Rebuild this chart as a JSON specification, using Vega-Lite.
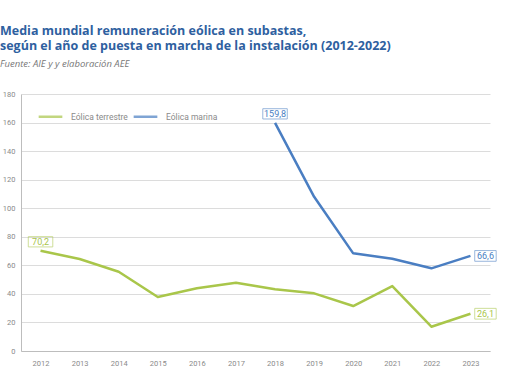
{
  "$schema": "https://vega.github.io/schema/vega-lite/v6.json",
  "autosize": "none",
  "width": 469,
  "height": 257,
  "padding": {"left": 21, "top": 94, "right": 20, "bottom": 31},
  "background": "white",
  "title": {
    "text": ["Media mundial remuneración eólica en subastas,", "según el año de puesta en marcha de la instalación (2012-2022)"],
    "subtitle": "Fuente: AIE y y elaboración AEE",
    "anchor": "start",
    "frame": "group",
    "dx": -21,
    "offset": 22,
    "font": "Open Sans",
    "fontSize": 12.5,
    "fontWeight": "bold",
    "color": "#2E609F",
    "lineHeight": 15,
    "subtitleFont": "Open Sans",
    "subtitleFontSize": 9.5,
    "subtitleFontStyle": "italic",
    "subtitleColor": "#777777",
    "subtitlePadding": 6
  },
  "config": {
    "view": {"stroke": null},
    "axis": {
      "labelFont": "Roboto",
      "labelFontSize": 7.5,
      "labelColor": "#8a8a8a",
      "domainColor": "#bdbdbd",
      "gridColor": "#dcdcdc",
      "ticks": false,
      "labelOverlap": false,
      "title": null
    }
  },
  "datasets": {
    "series": [
      {"year": "2012", "serie": "Eólica terrestre", "value": 70.2},
      {"year": "2013", "serie": "Eólica terrestre", "value": 64.4},
      {"year": "2014", "serie": "Eólica terrestre", "value": 55.5},
      {"year": "2015", "serie": "Eólica terrestre", "value": 37.8},
      {"year": "2016", "serie": "Eólica terrestre", "value": 43.9},
      {"year": "2017", "serie": "Eólica terrestre", "value": 47.8},
      {"year": "2018", "serie": "Eólica terrestre", "value": 43.2},
      {"year": "2019", "serie": "Eólica terrestre", "value": 40.4},
      {"year": "2020", "serie": "Eólica terrestre", "value": 31.5},
      {"year": "2021", "serie": "Eólica terrestre", "value": 45.5},
      {"year": "2022", "serie": "Eólica terrestre", "value": 17.0},
      {"year": "2023", "serie": "Eólica terrestre", "value": 26.1},
      {"year": "2018", "serie": "Eólica marina", "value": 159.8},
      {"year": "2019", "serie": "Eólica marina", "value": 108.0},
      {"year": "2020", "serie": "Eólica marina", "value": 68.4},
      {"year": "2021", "serie": "Eólica marina", "value": 64.6},
      {"year": "2022", "serie": "Eólica marina", "value": 57.9},
      {"year": "2023", "serie": "Eólica marina", "value": 66.6}
    ],
    "labels": [
      {"year": "2012", "serie": "Eólica terrestre", "value": 70.2, "label": "70,2", "pos": "top"},
      {"year": "2018", "serie": "Eólica marina", "value": 159.8, "label": "159,8", "pos": "top"},
      {"year": "2023", "serie": "Eólica marina", "value": 66.6, "label": "66,6", "pos": "right"},
      {"year": "2023", "serie": "Eólica terrestre", "value": 26.1, "label": "26,1", "pos": "right"}
    ]
  },
  "encoding": {
    "x": {"field": "year", "type": "ordinal", "scale": {"type": "point", "padding": 0.5},
          "axis": {"grid": false, "labelAngle": 0, "labelPadding": 8, "domainColor": "#bdbdbd"}},
    "y": {"field": "value", "type": "quantitative", "scale": {"domain": [0, 180]},
          "axis": {"values": [0, 20, 40, 60, 80, 100, 120, 140, 160, 180], "labelPadding": 6, "grid": true}},
    "color": {"field": "serie", "type": "nominal",
      "scale": {"domain": ["Eólica terrestre", "Eólica marina"], "range": ["#A9C64A", "#4A7EC2"]},
      "legend": {
        "title": null, "orient": "none", "legendX": 16, "legendY": 9, "direction": "horizontal",
        "symbolType": "stroke", "symbolSize": 560, "symbolStrokeWidth": 2.5,
        "labelFont": "Roboto", "labelFontSize": 8.5, "labelColor": "#8a8a8a",
        "columnPadding": 0, "labelOffset": 7
      }
    }
  },
  "layer": [
    {
      "data": {"name": "series"},
      "mark": {"type": "line", "strokeWidth": 2.5, "strokeJoin": "round"}
    },
    {
      "data": {"name": "labels"},
      "transform": [{"filter": "datum.pos == 'top'"}],
      "mark": {"type": "point", "filled": false, "strokeWidth": 0.8, "yOffset": -9,
               "shape": "M-1,-0.42H1V0.42H-1Z", "size": 600}
    },
    {
      "data": {"name": "labels"},
      "transform": [{"filter": "datum.pos == 'right'"}],
      "mark": {"type": "point", "filled": false, "strokeWidth": 0.8, "xOffset": 15,
               "shape": "M-1,-0.5H1V0.5H-1Z", "size": 460}
    },
    {
      "data": {"name": "labels"},
      "transform": [{"filter": "datum.pos == 'top'"}],
      "mark": {"type": "text", "font": "Roboto", "fontSize": 9, "yOffset": -9, "baseline": "middle", "align": "center"},
      "encoding": {"text": {"field": "label"}}
    },
    {
      "data": {"name": "labels"},
      "transform": [{"filter": "datum.pos == 'right'"}],
      "mark": {"type": "text", "font": "Roboto", "fontSize": 9, "xOffset": 15, "baseline": "middle", "align": "center"},
      "encoding": {"text": {"field": "label"}}
    }
  ]
}
